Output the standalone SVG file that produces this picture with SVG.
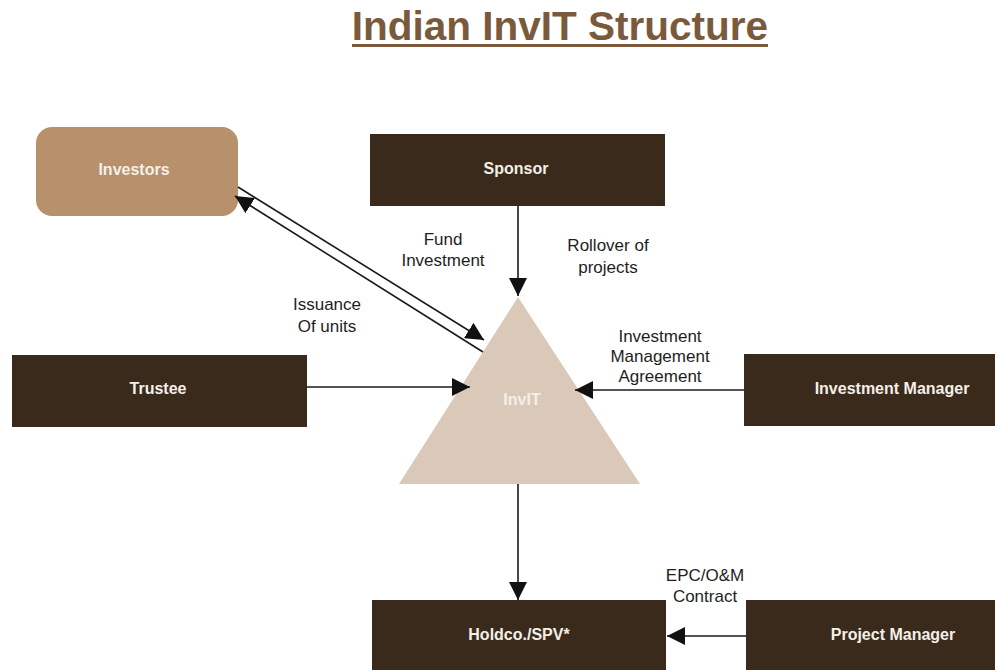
<svg xmlns="http://www.w3.org/2000/svg" width="995" height="670" viewBox="0 0 995 670">
<style>
.box{fill:#3a2a1b}
.lbl{font-family:"Liberation Sans",Arial,sans-serif;font-size:16px;font-weight:bold;fill:#f4efe9;text-anchor:middle;dominant-baseline:middle}
.ed{font-family:"Liberation Sans",Arial,sans-serif;font-size:17px;fill:#1e1e1e;text-anchor:middle}
.ln{stroke:#1a1a1a;stroke-width:1.6;fill:none}
</style>
<defs>
<marker id="ahb" viewBox="0 0 10 10" refX="10" refY="5" markerWidth="18" markerHeight="18" markerUnits="userSpaceOnUse" orient="auto">
<path d="M0,0 L10,5 L0,10 z" fill="#111"/>
</marker>
</defs>
<rect width="995" height="670" fill="#ffffff"/>
<text x="560" y="40" font-family="Liberation Sans,Arial,sans-serif" font-size="40.5" font-weight="bold" fill="#7b5a3c" text-anchor="middle">Indian InvIT Structure</text>
<rect x="352" y="44" width="416" height="3" fill="#7b5a3c"/>

<g id="investors"><rect x="36" y="127" width="202" height="89" rx="16" fill="#b6916c"/><text class="lbl" x="134" y="171">Investors</text></g>
<g id="sponsor"><rect class="box" x="370" y="134" width="295" height="72"/><text class="lbl" x="516" y="170">Sponsor</text></g>
<g id="trustee"><rect class="box" x="12" y="355" width="295" height="72"/><text class="lbl" x="158" y="390">Trustee</text></g>
<g id="invit"><polygon points="518,297 399,484 640,484" fill="#dac9b9"/><text class="lbl" x="522" y="401">InvIT</text></g>
<g id="investment-manager"><rect class="box" x="744" y="354" width="251" height="72"/><text class="lbl" x="892" y="390">Investment Manager</text></g>
<g id="holdco"><rect class="box" x="372" y="600" width="294" height="70"/><text class="lbl" x="519" y="636">Holdco./SPV*</text></g>
<g id="project-manager"><rect class="box" x="746" y="600" width="249" height="70"/><text class="lbl" x="893" y="636">Project Manager</text></g>

<g id="connectors">
<line class="ln" x1="518" y1="206" x2="518" y2="296" marker-end="url(#ahb)"/>
<line class="ln" x1="238" y1="187" x2="484" y2="340" marker-end="url(#ahb)"/>
<line class="ln" x1="483" y1="352" x2="235" y2="196" marker-end="url(#ahb)"/>
<line class="ln" x1="307" y1="387" x2="470" y2="387" marker-end="url(#ahb)"/>
<line class="ln" x1="744" y1="390" x2="575" y2="390" marker-end="url(#ahb)"/>
<line class="ln" x1="518" y1="484" x2="518" y2="600" marker-end="url(#ahb)"/>
<line class="ln" x1="746" y1="636" x2="667" y2="636" marker-end="url(#ahb)"/>
<text class="ed" x="443" y="245">Fund</text>
<text class="ed" x="443" y="266">Investment</text>
<text class="ed" x="608" y="251">Rollover of</text>
<text class="ed" x="608" y="273">projects</text>
<text class="ed" x="327" y="310">Issuance</text>
<text class="ed" x="327" y="332">Of units</text>
<text class="ed" x="660" y="342">Investment</text>
<text class="ed" x="660" y="362">Management</text>
<text class="ed" x="660" y="382">Agreement</text>
<text class="ed" x="705" y="581">EPC/O&amp;M</text>
<text class="ed" x="705" y="602">Contract</text>
</g>
</svg>
